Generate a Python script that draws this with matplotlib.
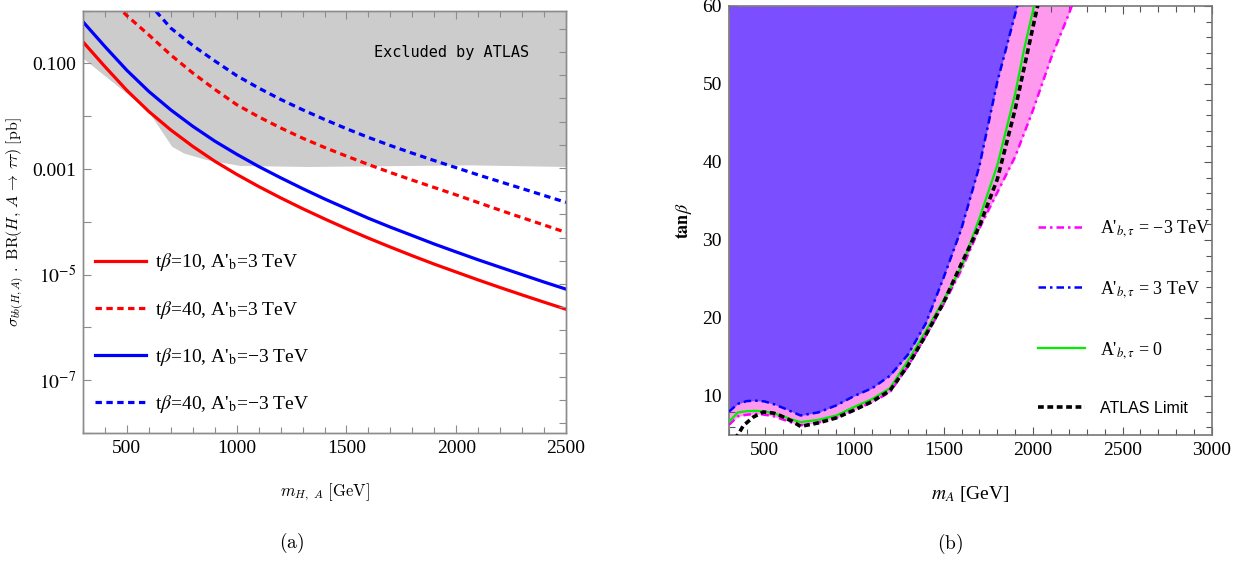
import matplotlib
matplotlib.use("Agg")
import matplotlib.pyplot as plt
from matplotlib.ticker import FixedLocator, FixedFormatter, MultipleLocator, NullFormatter

# ---------------- Panel (a) data ----------------
mass_a = [300, 400, 500, 600, 700, 800, 900, 1000, 1100, 1200, 1300, 1400,
          1500, 1600, 1700, 1800, 1900, 2000, 2100, 2200, 2300, 2400, 2500]
tb10_pos = [0.257, 0.0871, 0.0309, 0.0123, 0.00550, 0.00269, 0.00141, 7.94e-4,
            4.68e-4, 2.85e-4, 1.78e-4, 1.14e-4, 7.41e-5, 4.92e-5, 3.33e-5, 2.28e-5,
            1.58e-5, 1.12e-5, 7.94e-6, 5.70e-6, 4.13e-6, 3.01e-6, 2.21e-6]
tb10_neg = [0.617, 0.209, 0.0741, 0.0295, 0.0132, 0.00646, 0.00339, 0.00191,
            0.00112, 6.84e-4, 4.27e-4, 2.72e-4, 1.78e-4, 1.17e-4, 7.94e-5, 5.50e-5,
            3.80e-5, 2.69e-5, 1.91e-5, 1.38e-5, 1.00e-5, 7.24e-6, 5.31e-6]
mass_tb40_pos = [450, 500, 600, 700, 800, 900, 1000, 1100, 1200, 1300, 1400, 1500,
                 1600, 1700, 1800, 1900, 2000, 2100, 2200, 2300, 2400, 2500]
tb40_pos = [1.29, 0.804, 0.347, 0.145, 0.0661, 0.0324, 0.0166, 0.00977, 0.00603,
            0.00385, 0.00257, 0.00176, 0.00122, 8.61e-4, 6.17e-4, 4.47e-4, 3.24e-4,
            2.32e-4, 1.66e-4, 1.20e-4, 8.71e-5, 6.31e-5]
mass_tb40_neg = [600, 700, 800, 900, 1000, 1100, 1200, 1300, 1400, 1500, 1600,
                 1700, 1800, 1900, 2000, 2100, 2200, 2300, 2400, 2500]
tb40_neg = [1.38, 0.468, 0.219, 0.112, 0.0589, 0.0343, 0.0209, 0.0133, 0.00871,
            0.00582, 0.00398, 0.00279, 0.00200, 0.00145, 0.00106, 7.76e-4, 5.75e-4,
            4.27e-4, 3.16e-4, 2.34e-4]
excl_mass = [300, 560, 606, 704, 760, 863, 1015, 1319, 2063, 2500]
excl_low = [0.126, 0.0170, 0.0110, 0.0027, 0.0020, 0.00151, 0.00117, 0.00112, 0.00120, 0.00112]
labels_a = ["t$\\beta$=10, A'$_{\\mathrm{b}}$=3 TeV",
            "t$\\beta$=40, A'$_{\\mathrm{b}}$=3 TeV",
            "t$\\beta$=10, A'$_{\\mathrm{b}}$=\u22123 TeV",
            "t$\\beta$=40, A'$_{\\mathrm{b}}$=\u22123 TeV"]

# ---------------- Panel (b) data ----------------
mA_blue = [300, 350, 400, 450, 500, 550, 600, 650, 700, 800, 900, 1000, 1100, 1200,
           1300, 1400, 1500, 1600, 1700, 1800, 1900, 1950]
tb_blue = [8.0, 9.0, 9.35, 9.4, 9.3, 8.95, 8.5, 8.0, 7.5, 7.9, 8.8, 10.0, 11.0, 12.6,
           15.3, 19.3, 25.2, 31.5, 39.5, 50.3, 59.0, 63.5]
mA_green = [300, 350, 400, 450, 500, 550, 600, 650, 700, 800, 900, 1000, 1100, 1200,
            1300, 1400, 1500, 1600, 1700, 1800, 1900, 1950, 2010]
tb_green = [6.7, 7.9, 8.05, 8.1, 8.0, 7.8, 7.4, 7.0, 6.65, 6.95, 7.5, 8.6, 9.6, 11.0,
            14.5, 18.3, 22.3, 26.6, 32.8, 39.6, 48.8, 54.5, 60.5]
mA_atlas = [330, 352, 380, 436, 492, 550, 586, 650, 700, 800, 900, 1000, 1100, 1200,
            1300, 1400, 1500, 1600, 1700, 1800, 1900, 2000, 2030]
tb_atlas = [4.5, 5.1, 6.2, 7.3, 7.95, 7.8, 7.5, 6.8, 6.1, 6.55, 7.2, 8.2, 9.3, 10.7,
            13.9, 17.8, 22.0, 27.0, 31.8, 37.8, 46.8, 57.4, 60.5]
mA_mag = [300, 350, 400, 450, 500, 550, 600, 650, 700, 800, 900, 1000, 1100, 1200,
          1300, 1400, 1500, 1600, 1700, 1800, 1900, 2000, 2100, 2200, 2240]
tb_mag = [6.3, 7.4, 7.6, 7.7, 7.6, 7.4, 7.0, 6.6, 6.25, 6.6, 7.2, 8.2, 9.2, 10.5,
          13.8, 17.7, 21.8, 26.2, 31.5, 36.1, 40.7, 46.7, 53.3, 59.0, 61.5]
labels_b = ["A'$_{b,\\tau}$ = \u22123 TeV", "A'$_{b,\\tau}$ = 3 TeV",
            "A'$_{b,\\tau}$ = 0", "ATLAS Limit"]

plt.rcParams['mathtext.fontset'] = 'stix'
plt.rcParams['font.family'] = ['Liberation Serif', 'DejaVu Serif']

W, H = 1238, 561
fig = plt.figure(figsize=(W / 100, H / 100), dpi=100)
axL = fig.add_axes([83 / W, 1 - 433 / H, 483 / W, 422.3 / H])
axR = fig.add_axes([729 / W, 1 - 435 / H, 483 / W, 429 / H])

gcol = '#8c8c8c'
# ---------------- Panel (a) ----------------
axL.fill_between(excl_mass, excl_low, 1.0, color='#cccccc', lw=0, zorder=1)
lw = 2.3
axL.plot(mass_a, tb10_pos, color='#ff0000', lw=lw, label=labels_a[0], zorder=3)
axL.plot(mass_tb40_pos, tb40_pos, color='#ff0000', lw=lw, ls=(0, (2.0, 1.4)), label=labels_a[1], zorder=3)
axL.plot(mass_a, tb10_neg, color='#0000ff', lw=lw, label=labels_a[2], zorder=3)
axL.plot(mass_tb40_neg, tb40_neg, color='#0000ff', lw=lw, ls=(0, (2.0, 1.4)), label=labels_a[3], zorder=3)
axL.set_yscale('log')
axL.set_xlim(300, 2500)
axL.set_ylim(1e-8, 1.0)
axL.yaxis.set_major_locator(FixedLocator([1e-1, 1e-3, 1e-5, 1e-7]))
axL.yaxis.set_major_formatter(FixedFormatter(['0.100', '0.001', '$10^{-5}$', '$10^{-7}$']))
axL.yaxis.set_minor_locator(FixedLocator([1e-8, 1e-6, 1e-4, 1e-2, 1.0]))
axL.yaxis.set_minor_formatter(NullFormatter())
axL.xaxis.set_major_locator(MultipleLocator(500))
axL.xaxis.set_minor_locator(MultipleLocator(100))
axL.tick_params(which='both', direction='in', color=gcol, width=0.8, top=True, right=False,
                labelsize=14, pad=5)
axL.tick_params(which='major', length=6)
axL.tick_params(which='minor', length=4)
axL.tick_params(axis='y', which='minor', length=6)
for s in axL.spines.values():
    s.set_color(gcol)
    s.set_linewidth(1.0)
axL.text(0.764, 0.902, 'Excluded by ATLAS', transform=axL.transAxes,
         family='DejaVu Sans Mono', fontsize=11, ha='center', va='center', zorder=4)
axL.set_ylabel(r'$\sigma_{bb(H,A)}\ .\ \mathrm{BR}(H,\,A\,\rightarrow\,\tau\tau)\ [\mathrm{pb}]$',
               fontsize=11.5, math_fontfamily='cm', labelpad=4)
axL.set_xlabel(r'$m_{H,\ A}\ [\mathrm{GeV}]$', fontsize=12, math_fontfamily='cm', labelpad=18)
legL = axL.legend(loc='upper left', bbox_to_anchor=(0.025, 0.43), frameon=False,
                  prop={'family': 'Liberation Serif', 'size': 14}, handlelength=2.6,
                  handletextpad=0.5, labelspacing=1.3, borderpad=0, borderaxespad=0)
axL2 = axL.twinx()
axL2.set_ylim(0, 1)
axL2.yaxis.set_major_locator(FixedLocator([0.0237 + 0.0549 * k for k in range(18)]))
axL2.yaxis.set_major_formatter(NullFormatter())
axL2.tick_params(direction='in', length=5, color=gcol, width=0.8)
for s in axL2.spines.values():
    s.set_color(gcol)
    s.set_linewidth(1.0)

# ---------------- Panel (b) ----------------
axR.fill_between(mA_mag, tb_mag, 60, color='#ff99ee', lw=0, zorder=1)
axR.fill_between(mA_blue, tb_blue, 60, color='#7b4fff', lw=0, zorder=2)
dd = (0, (3.0, 1.6, 1.0, 1.6))
h1, = axR.plot(mA_mag, tb_mag, color='#ff00ff', lw=1.8, ls=dd, zorder=3)
h2, = axR.plot(mA_blue, tb_blue, color='#0000ff', lw=1.8, ls=dd, zorder=3)
h3, = axR.plot(mA_green, tb_green, color='#00ee00', lw=1.6, zorder=4)
h4, = axR.plot(mA_atlas, tb_atlas, color='black', lw=2.6, ls=(0, (1.6, 1.0)), zorder=5)
axR.set_xlim(300, 3000)
axR.set_ylim(5, 60)
axR.xaxis.set_major_locator(MultipleLocator(500))
axR.xaxis.set_minor_locator(MultipleLocator(100))
axR.yaxis.set_major_locator(FixedLocator([10, 20, 30, 40, 50, 60]))
axR.yaxis.set_minor_locator(MultipleLocator(2))
axR.tick_params(which='both', direction='in', color='#555555', width=0.8, top=True, right=True,
                labelsize=14, pad=5)
axR.tick_params(which='major', length=6)
axR.tick_params(which='minor', length=4)
for s in axR.spines.values():
    s.set_color('#777777')
    s.set_linewidth(1.2)
axR.set_ylabel(r'$\mathbf{tan}\beta$', fontsize=13, labelpad=6)
axR.set_xlabel(r'$m_A$ [GeV]', fontsize=14, labelpad=18)
legR = axR.legend([h1, h2, h3, h4], labels_b, loc='upper left', bbox_to_anchor=(0.64, 0.505),
                  frameon=False, prop={'family': 'Liberation Serif', 'size': 13},
                  handlelength=2.6, handletextpad=0.8, labelspacing=2.2,
                  borderpad=0, borderaxespad=0)
t4 = legR.get_texts()[3]
t4.set_fontfamily('Liberation Sans')
t4.set_fontsize(11.5)

fig.text(292 / W, 1 - 543 / H, r'$\mathrm{(a)}$', math_fontfamily='cm', fontsize=14,
         ha='center', va='center')
fig.text(950 / W, 1 - 544 / H, r'$\mathrm{(b)}$', math_fontfamily='cm', fontsize=14,
         ha='center', va='center')

fig.savefig('out.png', dpi=100)
